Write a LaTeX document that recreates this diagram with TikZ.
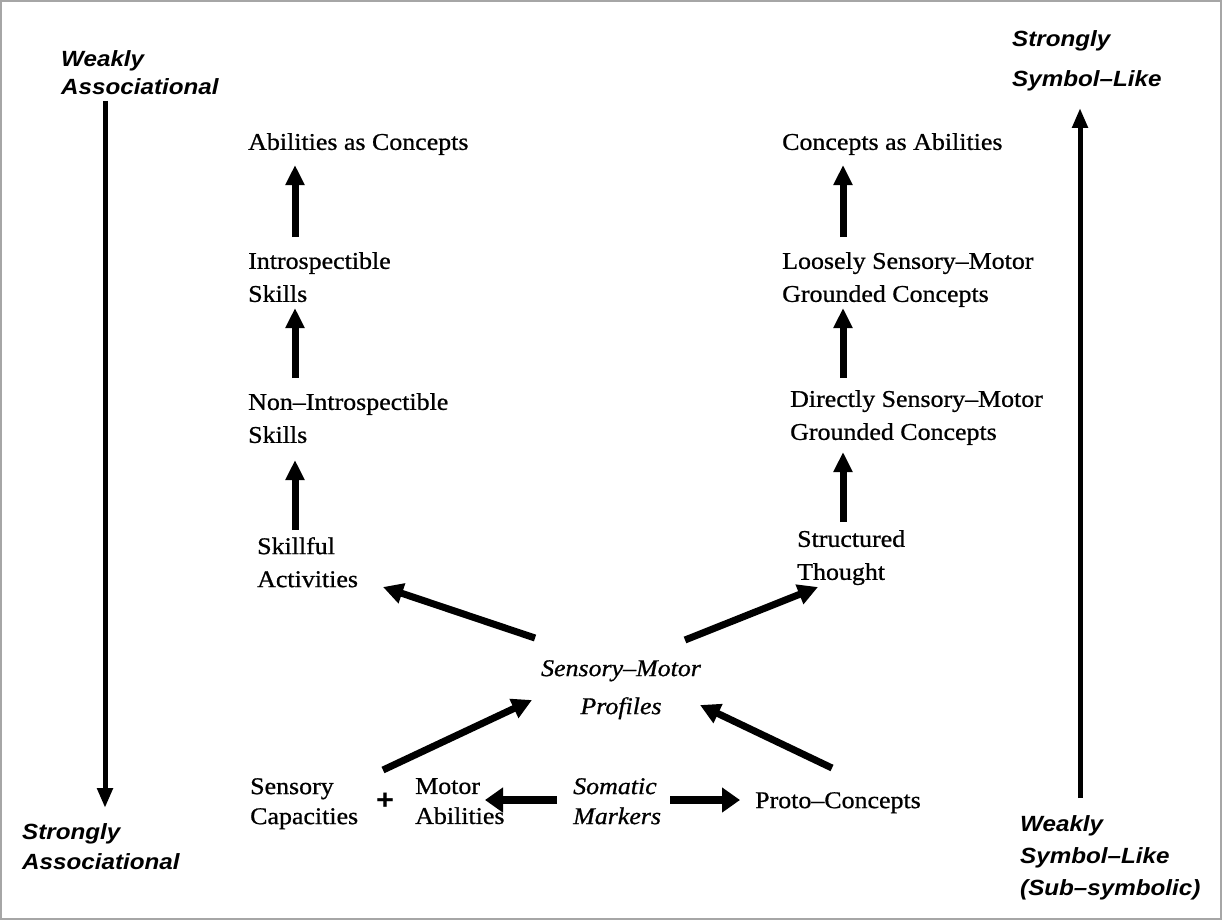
\documentclass[tikz,border=0pt]{standalone}
\usepackage{fontspec}
\usetikzlibrary{arrows.meta,calc}
\newfontfamily\serifx{Liberation Serif}[FakeStretch=1.08,FakeBold=0.8]
\newfontfamily\sansx{Liberation Sans}[FakeStretch=1.1]
\begin{document}
\begin{tikzpicture}[x=1pt,y=-1pt,
  txt/.style={inner sep=0pt, anchor=north west, align=left, font=\serifx\fontsize{24}{33}\selectfont},
  lowtxt/.style={txt, font=\serifx\fontsize{24}{30}\selectfont},
  lbl/.style={inner sep=0pt, anchor=north west, align=left, font=\sansx\bfseries\itshape\fontsize{22}{28}\selectfont},
  colarrow/.style={line width=7pt, -{Triangle[length=20pt,width=18pt]}},
  diagarrow/.style={line width=7pt, -{Triangle[length=20pt,width=20pt]}},
  horarrow/.style={line width=8pt, -{Triangle[length=18pt,width=24pt]}},
  sidearrow/.style={line width=5pt, -{Triangle[length=20pt,width=15pt]}}
]
\useasboundingbox (0,0) rectangle (1222,920);
\draw[gray!70, line width=2pt] (1,1) rectangle (1221,919);

% side labels
\node[lbl] (wa) at (61,50) {Weakly\\Associational};
\node[lbl, font=\sansx\bfseries\itshape\fontsize{22}{30}\selectfont] (sa) at (22,823) {Strongly\\Associational};
\node[lbl, font=\sansx\bfseries\itshape\fontsize{22}{40}\selectfont] (ss) at (1012,30) {Strongly\\Symbol–Like};
\node[lbl, font=\sansx\bfseries\itshape\fontsize{22}{32}\selectfont] (ws) at (1020,815) {Weakly\\Symbol–Like\\(Sub–symbolic)};

% left column
\node[txt] (aac) at (248,133) {Abilities as Concepts};
\node[txt] (is) at (248,252) {Introspectible\\Skills};
\node[txt] (nis) at (248,393) {Non–Introspectible\\Skills};
\node[txt] (sact) at (257,537) {Skillful\\Activities};

% right column
\node[txt] (cab) at (782,133) {Concepts as Abilities};
\node[txt] (lsm) at (782,252) {Loosely Sensory–Motor\\Grounded Concepts};
\node[txt] (dsm) at (790,390) {Directly Sensory–Motor\\Grounded Concepts};
\node[txt] (st) at (797,530) {Structured\\Thought};

% centre
\node[txt, anchor=north, align=center, font=\serifx\itshape\fontsize{24}{38}\selectfont] (sm) at (621,660) {Sensory–Motor\\Profiles};

% bottom row
\node[lowtxt] (sc) at (250,778) {Sensory\\Capacities};
\node[inner sep=0pt, font=\sansx\bfseries\fontsize{28}{30}\selectfont] (plus) at (385,801) {+};
\node[lowtxt] (ma) at (415,778) {Motor\\Abilities};
\node[lowtxt, font=\serifx\itshape\fontsize{24}{30}\selectfont] (som) at (573,778) {Somatic\\Markers};
\node[txt] (pc) at (755,792) {Proto–Concepts};

% column arrows
\draw[colarrow] ($(is.north west)+(47,-15)$) -- ($(aac.north west)+(47,32)$);
\draw[colarrow] ($(nis.north west)+(47,-15)$) -- ($(is.north west)+(47,56)$);
\draw[colarrow] ($(sact.north west)+(38,-7)$) -- ($(nis.north west)+(47,67)$);
\draw[colarrow] ($(lsm.north west)+(61,-15)$) -- ($(cab.north west)+(61,32)$);
\draw[colarrow] ($(dsm.north west)+(53,-12)$) -- ($(lsm.north west)+(61,56)$);
\draw[colarrow] ($(st.north west)+(46,-8)$) -- ($(dsm.north west)+(53,62)$);

% diagonal arrows
\draw[diagarrow] ($(sm.north)+(-86,-22)$) -- ($(sact.north west)+(126,50)$);
\draw[diagarrow] ($(sm.north)+(64,-20)$) -- ($(st.north west)+(21,57)$);
\draw[diagarrow] ($(sc.north west)+(133,-8)$) -- ($(sm.north)+(-89,40)$);
\draw[diagarrow] ($(pc.north west)+(77,-24)$) -- ($(sm.north)+(79,45)$);

% somatic arrows
\draw[horarrow] ($(som.north west)+(-16,22)$) -- ($(ma.north west)+(70,22)$);
\draw[horarrow] ($(som.north west)+(97,22)$) -- ($(pc.north west)+(-15,8)$);

% side arrows
\draw[sidearrow] ($(wa.north west)+(44,51)$) -- ($(sa.north west)+(83,-15)$);
\draw[sidearrow] ($(ws.north west)+(60,-17)$) -- ($(ss.north west)+(68,78)$);
\end{tikzpicture}
\end{document}
